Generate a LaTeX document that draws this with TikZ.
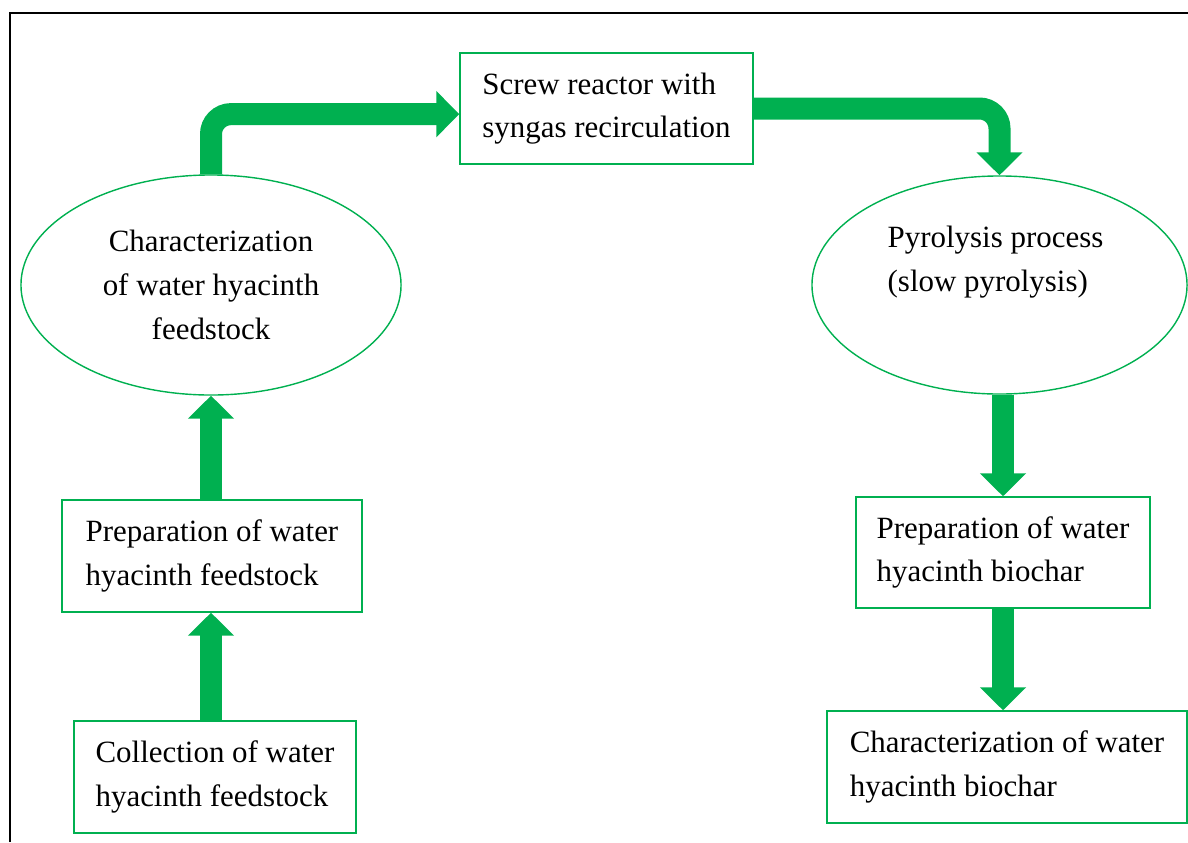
\documentclass[tikz,border=0pt]{standalone}
\usepackage{fontspec}
\setmainfont{Liberation Serif}
\usepackage{xcolor}
\usepackage{tikz}
\usetikzlibrary{shapes.geometric, arrows.meta}
\definecolor{flowgreen}{HTML}{00B050}

\begin{document}
\begin{tikzpicture}[x=0.025cm, y=-0.025cm, font=\fontsize{22}{31}\selectfont,
    stepbox/.style={rectangle, draw=flowgreen, line width=1pt, align=left, inner sep=0pt},
    stepoval/.style={ellipse, draw=flowgreen, line width=1pt, inner sep=0pt},
    flow/.style={draw=flowgreen, line width=0.55cm, rounded corners=0.5cm, -{Triangle[width=1.125cm, length=0.575cm]}}]
        \useasboundingbox (0,0) rectangle (1188,842);
        % Frame (top and left only)
        \draw[line width=1.4pt] (10,842) -- (10,13) -- (1188,13);

        % Define nodes for the process steps
        \node[stepbox, minimum width=7.325cm, minimum height=2.775cm] (screw) at (606.5,108.5) {Screw reactor with\\syngas recirculation};   % Reactor
        \node[stepoval, minimum width=9.5cm, minimum height=5.5cm, align=center] (charfeed) at (211,285) {Characterization\\of water hyacinth\\feedstock}; % Feedstock analysis
        \node[stepoval, minimum width=9.375cm, minimum height=5.45cm] (pyro) at (999.5,285) {};   % Pyrolysis
        \node[align=left] (pyrotext) at ([shift={(-4,-23)}]pyro.center) {Pyrolysis process\\(slow pyrolysis)};
        \node[stepbox, minimum width=7.5cm, minimum height=2.8cm] (prepfeed) at (212,556) {Preparation of water\\hyacinth feedstock};
        \node[stepbox, minimum width=7.05cm, minimum height=2.8cm] (collect) at (215,777) {Collection of water\\hyacinth feedstock};
        \node[stepbox, minimum width=7.35cm, minimum height=2.775cm] (prepbio) at (1003,552.5) {Preparation of water\\hyacinth biochar};
        \node[stepbox, minimum width=9cm, minimum height=2.8cm] (charbio) at (1007,767) {Characterization of water\\hyacinth biochar};

        % Draw thick arrows between steps
        \draw[flow] (collect.north -| charfeed.south) -- (prepfeed.south -| charfeed.south);   % Collection to preparation
        \draw[flow] (prepfeed.north -| charfeed.south) -- (charfeed.south);                    % Preparation to characterization
        \draw[flow] (charfeed.north) |- ([yshift=-4]screw.west);                              % Characterization to reactor
        \draw[flow] (screw.east) -| (pyro.north);                                              % Reactor to pyrolysis
        \draw[flow] (pyro.south -| prepbio.north) -- (prepbio.north);                          % Pyrolysis to biochar
        \draw[flow] (prepbio.south) -- (prepbio.south |- charbio.north);                       % Biochar to characterization
\end{tikzpicture}
\end{document}
